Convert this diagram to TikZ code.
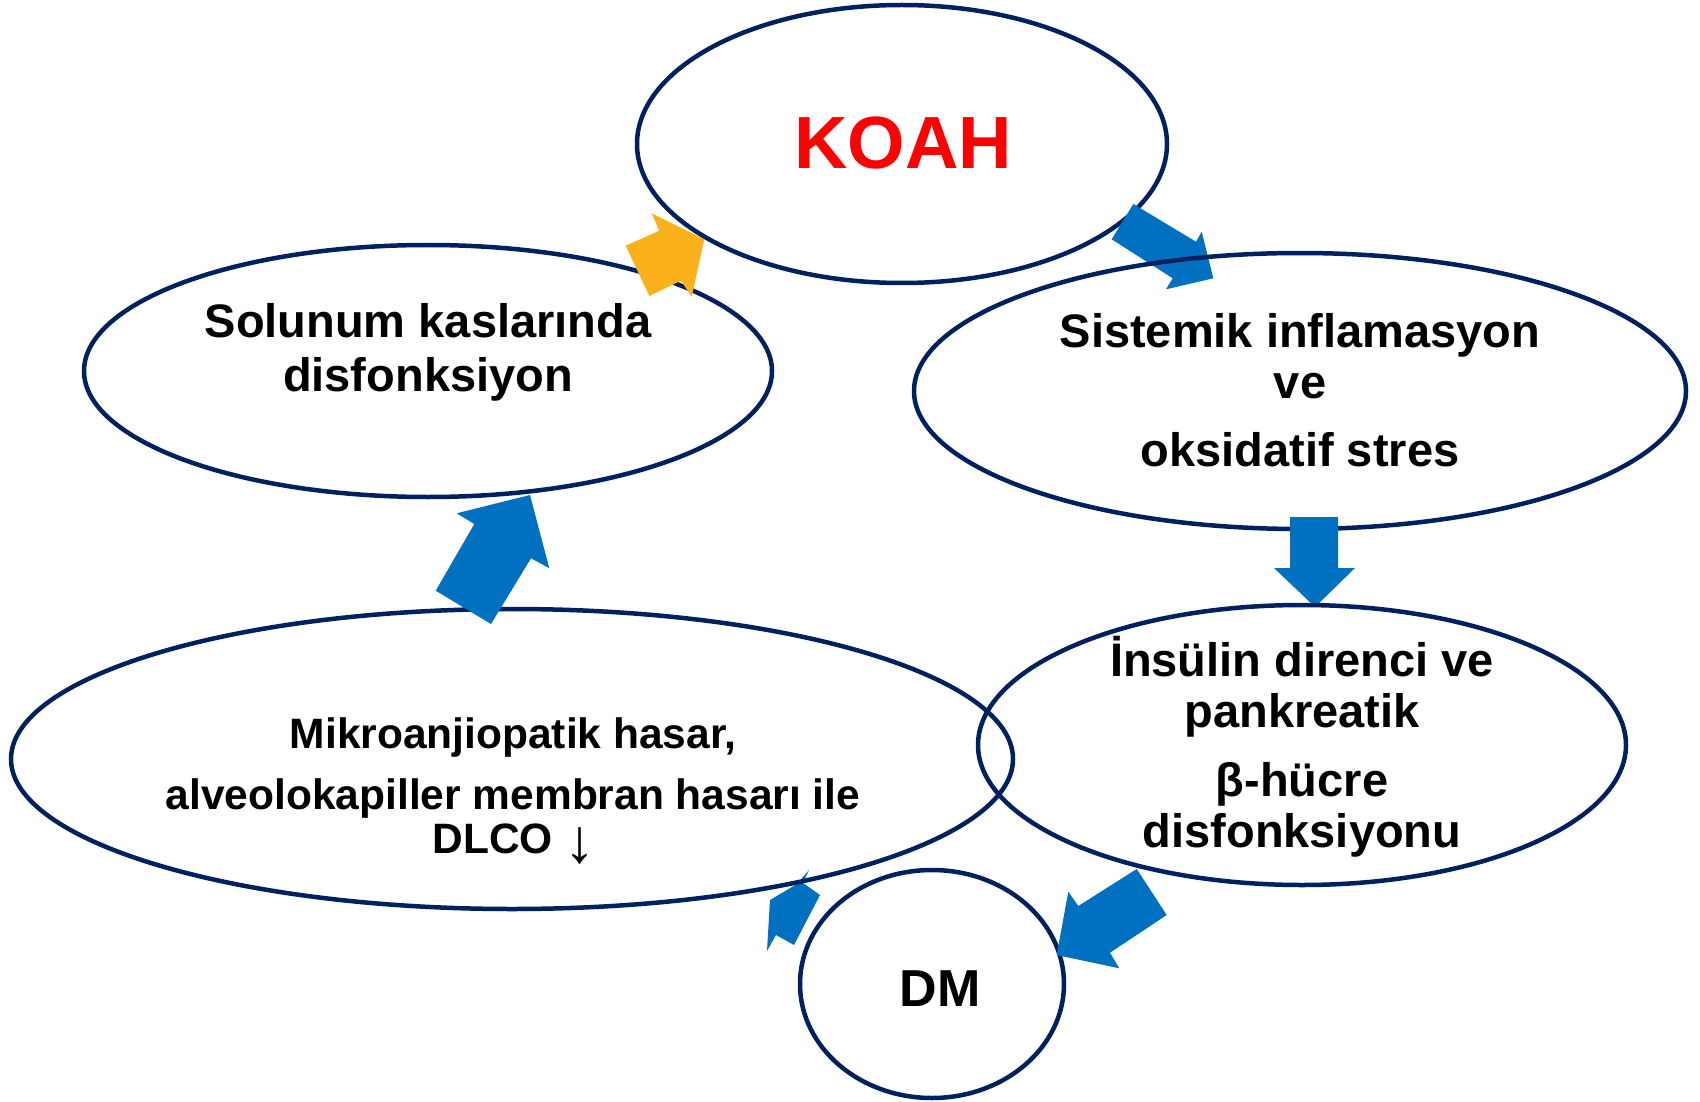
\documentclass[tikz,border=0pt]{standalone}
\usepackage{fontspec}
\setmainfont{Liberation Sans}
\usetikzlibrary{shapes.geometric}
\definecolor{navy}{HTML}{002060}
\definecolor{arrowblue}{HTML}{0070C0}
\definecolor{arroworange}{HTML}{FBB11C}
\definecolor{koahred}{HTML}{FF0000}
\tikzset{
  oval/.style={ellipse, draw=navy, line width=4.5pt, inner sep=0pt},
  blockblue/.style={fill=arrowblue},
  blockorange/.style={fill=arroworange},
  txt/.style={anchor=base, inner sep=0pt, font=\bfseries\fontsize{47}{55}\selectfont},
  txtsmall/.style={anchor=base, inner sep=0pt, font=\bfseries\fontsize{42.5}{50}\selectfont}
}
\begin{document}
\begin{tikzpicture}[x=1pt,y=-1pt]
\useasboundingbox (0,0) rectangle (1700,1102);
% Solunum ellipse
\node[oval, minimum width=688pt, minimum height=252pt] (sol) at (428,371) {};
% orange arrow
\fill[blockorange] (651.7,213.3) -- (659.3,230.7) -- (625.7,245.7) -- (649.3,296) -- (681,280.7) -- (691.7,296.7) -- (704.3,239.3) -- cycle;
% KOAH ellipse
\node[oval, minimum width=530pt, minimum height=278pt] (koah) at (902,144) {};
% blue arrow KOAH -> Sistemik
\fill[blockblue] (1133.3,204) -- (1196,241.7) -- (1201.7,231.7) -- (1213.3,278.3) -- (1166,289.3) -- (1172.7,278.3) -- (1111.7,239.3) -- cycle;
% Sistemik ellipse
\node[oval, minimum width=772pt, minimum height=276pt] (sis) at (1300,391) {};
% down arrow
\fill[blockblue] (1290,517) -- (1338,517) -- (1338,568) -- (1355,568) -- (1315,607) -- (1274,568) -- (1290,568) -- cycle;
% Insulin ellipse
\node[oval, minimum width=648pt, minimum height=280pt] (ins) at (1302,745) {};
% small arrow DM -> Mikro
\fill[blockblue] (770,900) -- (797,884) -- (809,870) -- (803,883) -- (820,895) -- (794,945) -- (776,935) -- (767,951) -- cycle;
% Mikro ellipse
\node[oval, minimum width=1002pt, minimum height=300pt] (mik) at (512,759) {};
% up arrow Mikro -> Solunum
\fill[blockblue] (530,495) -- (549.3,568.3) -- (531,558.3) -- (491,624) -- (435.7,590.7) -- (474.3,524) -- (456.7,513.3) -- cycle;
% DM ellipse
\node[oval, minimum width=264pt, minimum height=228pt] (dm) at (932,984) {};
% arrow Insulin -> DM
\fill[blockblue] (1136.7,869) -- (1166.7,915) -- (1110,952.7) -- (1119.3,968.3) -- (1056.7,955) -- (1068.3,891.7) -- (1078.3,906) -- cycle;
% texts
\node[anchor=base, inner sep=0pt, text=koahred, font=\bfseries\fontsize{74}{80}\selectfont] (tkoah) at (903,169) {KOAH};
\node[txt] (tsol1) at (428,337) {Solunum kaslarında};
\node[txt] (tsol2) at (428,391.5) {disfonksiyon};
\node[txt] (tsis1) at (1300,347) {Sistemik inflamasyon};
\node[txt] (tsis2) at (1300,398) {ve};
\node[txt] (tsis3) at (1300,466) {oksidatif stres};
\node[txt] (tins1) at (1302,676.5) {İnsülin direnci ve};
\node[txt] (tins2) at (1302,727.5) {pankreatik};
\node[txt] (tins3) at (1302,796) {β-hücre};
\node[txt] (tins4) at (1302,847) {disfonksiyonu};
\node[txtsmall] (tmik1) at (513,748) {Mikroanjiopatik hasar,};
\node[txtsmall] (tmik2) at (513,809) {alveolokapiller membran hasarı ile};
\node[txtsmall] (tmik3) at (514,853) {DLCO \raisebox{-9pt}{\mdseries\fontsize{62}{62}\selectfont ↓}};
\node[anchor=base, inner sep=0pt, font=\bfseries\fontsize{52}{60}\selectfont] (tdm) at (940,1006) {DM};
\end{tikzpicture}
\end{document}
